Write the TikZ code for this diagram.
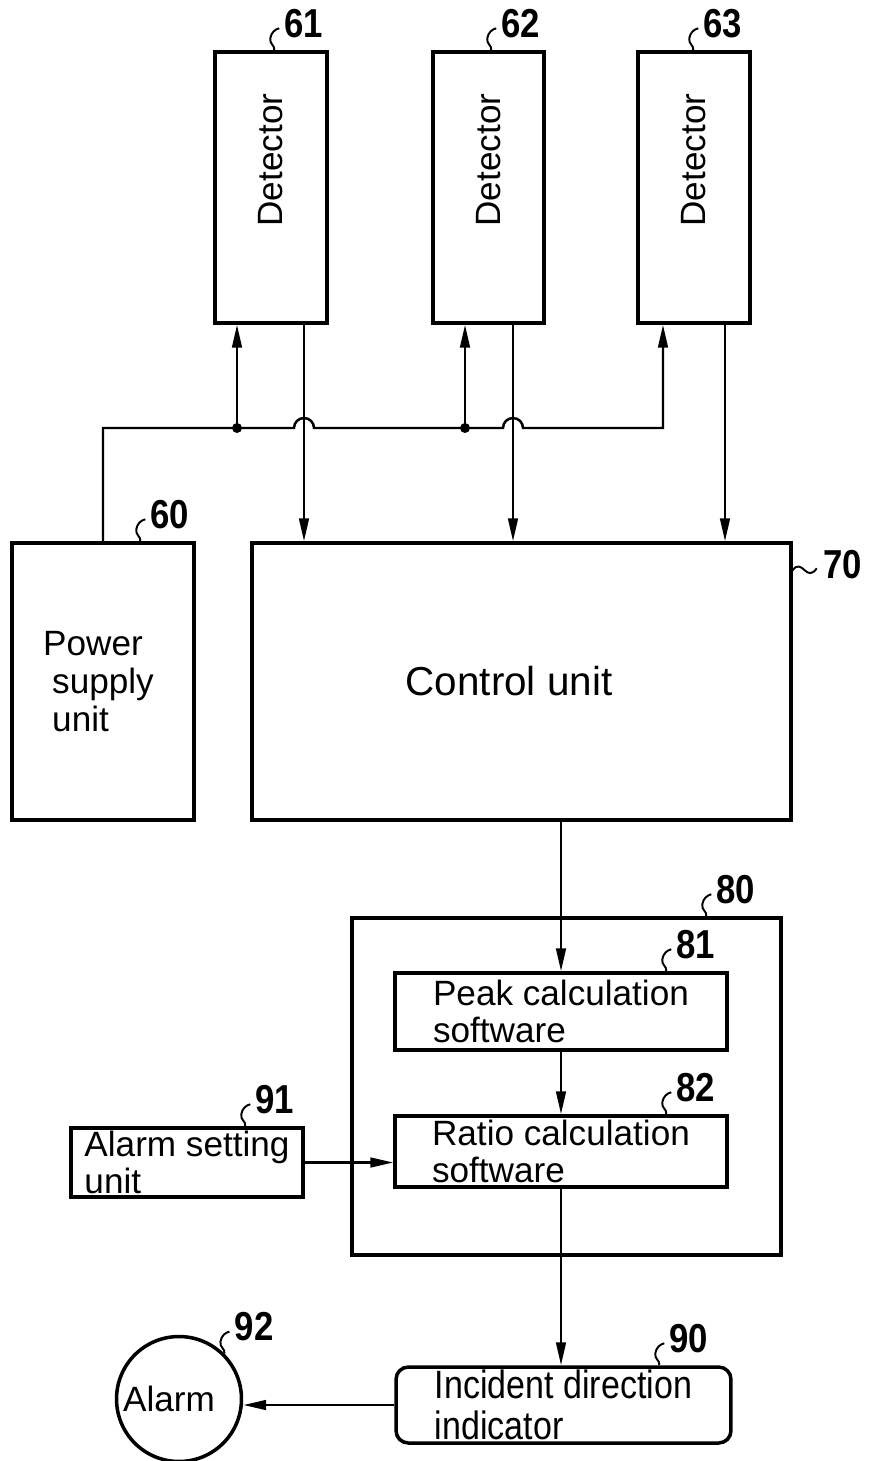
\documentclass[tikz,border=0pt]{standalone}
\usepackage{fontspec}
\setmainfont{Liberation Sans}
\newfontfamily\condfont[FakeStretch=0.86]{Liberation Sans}
\usetikzlibrary{arrows.meta,calc}

\tikzset{
  squig/.pic={\draw[line width=1.1pt] (0,0) .. controls (1,5) and (-5,6) .. (-4,12) .. controls (-3,18) and (1,21) .. (5,22);},
  tild/.pic={\draw[line width=1.1pt] (0,0) .. controls (4,6) and (8,4) .. (12,0) .. controls (16,-4) and (20,-4) .. (24,2);}
}
% reference number with its wavy leader: anchor, offset along edge, name, text
\newcommand{\refnum}[4]{%
  \path ($(#1)+(#2,0)$) pic{squig};
  \node[num,anchor=base west] (#3) at ($(#1)+(#2+10,13)$) {#4};}

\begin{document}
\begin{tikzpicture}[x=0.02cm,y=0.02cm,>={Triangle[length=13pt,width=5.5pt]},
  box/.style={draw,line width=2pt,inner sep=0pt},
  txt/.style={font=\fontsize{20}{21.5}\selectfont,align=left},
  num/.style={font=\condfont\bfseries\fontsize{23}{23}\selectfont,inner sep=0pt},
  wire/.style={line width=1.4pt}]
\useasboundingbox (0,0) rectangle (875,-1461);

% detectors
\node[box,minimum width=2.24cm,minimum height=5.42cm] (det61) at (271,-187.5) {};
\node[box,minimum width=2.22cm,minimum height=5.42cm] (det62) at (488.5,-187.5) {};
\node[box,minimum width=2.24cm,minimum height=5.42cm] (det63) at (694,-187.5) {};
\node[txt,rotate=90] (t61) at (det61 |- 0,-160) {Detector};
\node[txt,rotate=90] (t62) at (det62 |- 0,-160) {Detector};
\node[txt,rotate=90] (t63) at (det63 |- 0,-160) {Detector};

% power supply and control unit
\node[box,txt,minimum width=3.64cm,minimum height=5.54cm] (pwr) at (103,-681.5) {\hspace*{-0.18cm}Power\\supply\\unit};
\node[box,txt,font=\fontsize{23}{25}\selectfont,minimum width=10.78cm,minimum height=5.54cm] (ctl) at (521.5,-681.5) {Control unit\hspace*{0.5cm}};

% software block
\node[box,minimum width=8.58cm,minimum height=6.74cm] (sw) at (566.5,-1086.5) {};
\node[box,txt,minimum width=6.64cm,minimum height=1.54cm] (peak) at (561,-1011.5) {Peak calculation\\software};
\node[box,txt,minimum width=6.64cm,minimum height=1.42cm] (ratio) at (561,-1151.5) {Ratio calculation\\software};
\node[box,txt,minimum width=4.64cm,minimum height=1.38cm] (alset) at (187,-1162.5) {Alarm setting\\unit};

% outputs
\node[box,txt,font=\condfont\fontsize{22.5}{23}\selectfont,rounded corners=7pt,minimum width=6.7cm,minimum height=1.52cm] (ind) at (563.5,-1405) {Incident direction\\indicator};
\node[box,txt,circle,minimum size=2.5cm] (alarm) at (179,-1399) {Alarm\hspace*{0.4cm}};

% power bus
\coordinate (j61) at (237,-428);
\coordinate (j62) at (465,-428);
\coordinate (b63) at (663,-428);
\coordinate (x61) at (304,-428);
\coordinate (x62) at (513,-428);
\coordinate (x63) at (725,-428);
\draw[wire,->] (pwr.north) |- (j61) -- ([xshift=-0.2cm]x61) arc[start angle=180,end angle=0,radius=10]
  -- (j62) -- ([xshift=-0.2cm]x62) arc[start angle=180,end angle=0,radius=10] -- (b63) -- (b63 |- det63.south);
\draw[wire,->] (j61) -- (j61 |- det61.south);
\draw[wire,->] (j62) -- (j62 |- det62.south);
\fill (j61) circle (5);
\fill (j62) circle (5);

% detector signals
\draw[wire,->] (x61 |- det61.south) -- (x61 |- ctl.north);
\draw[wire,->] (x62 |- det62.south) -- (x62 |- ctl.north);
\draw[wire,->] (x63 |- det63.south) -- (x63 |- ctl.north);

\draw[wire,->] (ctl.south -| peak.north) -- (peak.north);
\draw[wire,->] (peak.south) -- (ratio.north);
\draw[wire,->] (alset.east) -- (alset.east -| ratio.west);
\draw[wire,->] (ratio.south) -- (ratio.south |- ind.north);
\draw[wire,->] (ind.west) -- (ind.west -| alarm.east);

% reference numbers
\refnum{det61.north west}{61}{n61}{61}
\refnum{det62.north west}{60}{n62}{62}
\refnum{det63.north west}{57}{n63}{63}
\refnum{pwr.north west}{130}{n60}{60}
\refnum{sw.north west}{356}{n80}{80}
\refnum{peak.north west}{273}{n81}{81}
\refnum{ratio.north west}{273}{n82}{82}
\refnum{alset.north west}{176}{n91}{91}
\refnum{ind.north west}{265}{n90}{90}
\refnum{alarm.45}{0}{n92}{92}
\path ($(ctl.north east)+(0,-29)$) pic{tild};
\node[num,anchor=base west] (n70) at ($(ctl.north east)+(30,-37)$) {70};
\end{tikzpicture}
\end{document}
